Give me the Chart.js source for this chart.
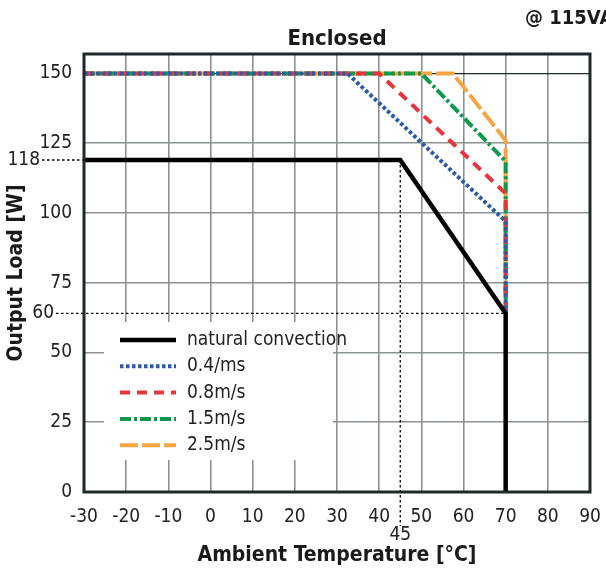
<!DOCTYPE html>
<html>
<head>
<meta charset="utf-8">
<script src="https://cdn.jsdelivr.net/npm/chart.js@4.4.0/dist/chart.umd.min.js"></script>
<style>
  html, body { margin: 0; padding: 0; background: #fff; }
  #wrap { width: 606px; height: 572px; }
</style>
</head>
<body>
<div id="wrap"><canvas id="chart" width="606" height="572"></canvas></div>
<script>
// values
const xTicks = [-30, -20, -10, 0, 10, 20, 30, 40, 50, 60, 70, 80, 90];
const yTicks = [0, 25, 50, 75, 100, 125, 150];

const seriesNames = ['natural convection', '0.4/ms', '0.8m/s', '1.5m/s', '2.5m/s'];
const naturalTemp = [-30, 45, 70, 70];
const naturalLoad = [119, 119, 64, 0];
const air04Temp = [-30, 32.5, 70, 70];
const air04Load = [150, 150, 97, 64];
const air08Temp = [-30, 40, 70, 70];
const air08Load = [150, 150, 107, 64];
const air15Temp = [-30, 50, 70, 70];
const air15Load = [150, 150, 118.5, 64];
const air25Temp = [-30, 57.5, 70, 70];
const air25Load = [150, 150, 126, 64];

// dotted marker lines: knee of natural convection curve
const markerTemp = 45;
const markerTempLabel = '45';
const markerLoads = [119, 64];
const markerLoadLabels = ['118', '60'];

const FONT = "'Liberation Sans Narrow', 'DejaVu Sans Condensed', 'Arial Narrow', sans-serif";
const GRID = '#8a9292';
const DARK = '#1e2a2a';

function pts(xs, ys) {
  return xs.map((x, i) => ({ x: x, y: ys[i] }));
}

const datasets = [
  { label: seriesNames[0], data: pts(naturalTemp, naturalLoad), borderColor: '#000000', borderWidth: 4.5, borderDash: [] },
  { label: seriesNames[1], data: pts(air04Temp, air04Load), borderColor: '#2b5ba8', borderWidth: 4, borderDash: [3.5, 2.5] },
  { label: seriesNames[2], data: pts(air08Temp, air08Load), borderColor: '#e8343c', borderWidth: 4, borderDash: [10, 7] },
  { label: seriesNames[3], data: pts(air15Temp, air15Load), borderColor: '#0b9a4c', borderWidth: 4, borderDash: [11, 3, 3, 3] },
  { label: seriesNames[4], data: pts(air25Temp, air25Load), borderColor: '#f7a543', borderWidth: 4, borderDash: [18, 4] },
].map(d => Object.assign(d, {
  fill: false, pointRadius: 0, tension: 0, borderCapStyle: 'butt', borderJoinStyle: 'miter'
}));

const overlay = {
  id: 'overlay',
  beforeDatasetsDraw(chart) {
    const ctx = chart.ctx;
    const xs = chart.scales.x, ys = chart.scales.y;
    ctx.save();
    // dotted marker lines
    ctx.strokeStyle = '#000';
    ctx.lineWidth = 1.3;
    ctx.setLineDash([2.5, 2.5]);
    const kx = xs.getPixelForValue(markerTemp);
    const ky = ys.getPixelForValue(markerLoads[0]);
    ctx.beginPath();
    ctx.moveTo(kx, ky);
    ctx.lineTo(kx, chart.chartArea.bottom + 34);
    ctx.stroke();
    const offs = [42, 56];
    const ends = [markerTemp, 70];
    markerLoads.forEach((v, i) => {
      const y = ys.getPixelForValue(v);
      ctx.beginPath();
      ctx.moveTo(offs[i], y);
      ctx.lineTo(xs.getPixelForValue(ends[i]), y);
      ctx.stroke();
    });
    ctx.setLineDash([]);
    ctx.fillStyle = '#222';
    ctx.font = '19px ' + FONT;
    ctx.textBaseline = 'middle';
    ctx.textAlign = 'right';
    markerLoads.forEach((v, i) => {
      ctx.fillText(markerLoadLabels[i], offs[i] - 2, ys.getPixelForValue(v));
    });
    ctx.textAlign = 'center';
    ctx.fillText(markerTempLabel, kx, chart.chartArea.bottom + 43);

    // legend box
    const bx = 104, by = 322, bw = 229, bh = 138;
    ctx.fillStyle = '#fff';
    ctx.fillRect(bx, by, bw, bh);
    chart.data.datasets.forEach((d, i) => {
      const y = 340 + i * 26.3;
      ctx.strokeStyle = d.borderColor;
      ctx.lineWidth = d.borderWidth;
      ctx.setLineDash(d.borderDash);
      ctx.beginPath();
      ctx.moveTo(120, y);
      ctx.lineTo(176, y);
      ctx.stroke();
      ctx.setLineDash([]);
      ctx.fillStyle = '#222';
      ctx.textAlign = 'left';
      ctx.fillText(d.label, 187, y);
    });
    ctx.restore();
  },
  afterDatasetsDraw(chart) {
    const ctx = chart.ctx;
    const a = chart.chartArea;
    ctx.save();
    ctx.strokeStyle = DARK;
    ctx.lineWidth = 3;
    ctx.strokeRect(a.left, a.top, a.right - a.left, a.bottom - a.top);
    // titles
    ctx.fillStyle = '#1a1a1a';
    ctx.textBaseline = 'middle';
    ctx.textAlign = 'center';
    ctx.font = 'bold 22px ' + FONT;
    ctx.fillText('Enclosed', (a.left + a.right) / 2, 39);
    ctx.textAlign = 'left';
    ctx.font = 'bold 20px ' + FONT;
    ctx.fillText('@ 115VAC', 525, 19);
    ctx.restore();
  }
};

new Chart(document.getElementById('chart'), {
  type: 'line',
  data: { datasets: datasets },
  plugins: [overlay],
  options: {
    responsive: false,
    animation: false,
    devicePixelRatio: 1,
    layout: { padding: { left: 0, right: 16, top: 54, bottom: 0 } },
    plugins: { legend: { display: false }, tooltip: { enabled: false }, title: { display: false } },
    scales: {
      x: {
        type: 'linear', min: -30, max: 90,
        afterBuildTicks: s => { s.ticks = xTicks.map(v => ({ value: v })); },
        afterFit: s => { s.height = 80; s.paddingLeft = 0; s.paddingRight = 0; },
        grid: { color: GRID, lineWidth: 1.6, drawTicks: false },
        border: { display: false },
        ticks: { padding: 14, color: '#222', maxRotation: 0, font: { family: FONT, size: 19 } },
        title: { display: true, text: 'Ambient Temperature [°C]', color: '#1a1a1a', padding: 4,
                 font: { family: FONT, size: 21, weight: 'bold' } }
      },
      y: {
        type: 'linear', min: 0, max: 157,
        afterBuildTicks: s => { s.ticks = yTicks.map(v => ({ value: v })); },
        afterFit: s => { s.width = 84; s.paddingTop = 0; s.paddingBottom = 0; },
        grid: { color: ctx => ctx.tick && ctx.tick.value === 150 ? DARK : GRID,
                lineWidth: ctx => ctx.tick && ctx.tick.value === 150 ? 1.2 : 1.6, drawTicks: false },
        border: { display: false },
        ticks: { padding: 12, color: '#222', font: { family: FONT, size: 19 } },
        title: { display: true, text: 'Output Load [W]', color: '#1a1a1a', padding: 4,
                 font: { family: FONT, size: 21, weight: 'bold' } }
      }
    }
  }
});
</script>
</body>
</html>
